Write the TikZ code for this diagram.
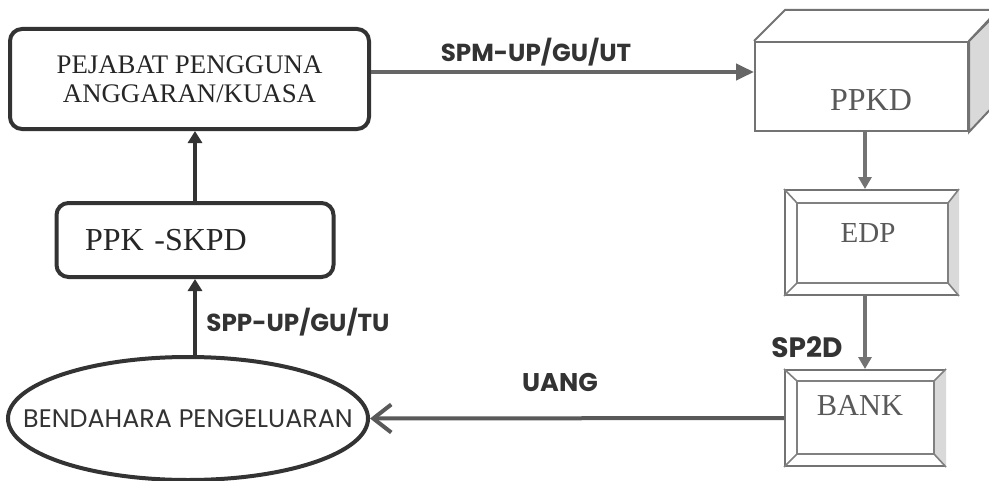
\documentclass[tikz,border=0pt]{standalone}
\usepackage{fontspec}
\setmainfont{Liberation Serif}
\newfontfamily\gothic{Poppins}
\usetikzlibrary{arrows.meta,calc,shapes.geometric}
\begin{document}
\begin{tikzpicture}[x=0.5pt,y=-0.5pt,
  darkbox/.style={draw=black!80, line width=2pt, rounded corners=6pt, inner sep=0pt, text=black!85},
  litebox/.style={draw=black!55, line width=1pt, inner sep=0pt},
  bevline/.style={draw=black!50, line width=0.8pt},
  bevfill/.style={fill=black!15},
  rtext/.style={text=black!65, inner sep=0pt},
  lab/.style={font=\gothic\bfseries\fontsize{12.3}{14}\selectfont, text=black!80, inner sep=0pt},
  darrow/.style={draw=black!80, line width=2pt, -{Triangle[length=6pt,width=7pt]}},
  spmarrow/.style={draw=black!60, line width=2pt, -{Triangle[length=9pt,width=8pt]}},
  garrow/.style={draw=black!55, line width=1.6pt, -{Triangle[length=6pt,width=6.5pt]}},
  uarrow/.style={draw=black!65, line width=2pt, -{Straight Barb[length=9pt,width=14pt,line width=2pt]}}]
\useasboundingbox (0,0) rectangle (989,481);
\clip (0,0) rectangle (989,481);
\fill[white] (0,0) rectangle (989,481);

% left column
\node[darkbox, minimum width=179.5pt, minimum height=50pt, align=center,
  font=\fontsize{13.4}{14.5}\selectfont] (peja) at (189.5,79)
  {PEJABAT PENGGUNA\\ANGGARAN/KUASA};
\node[darkbox, minimum width=138.5pt, minimum height=37pt, text width=110pt,
  align=left, font=\fontsize{16}{18}\selectfont] (ppk) at (195,240) {PPK -SKPD};
\node[draw=black!80, line width=2pt, ellipse, minimum width=180pt, minimum height=61.5pt,
  inner sep=0pt] (bend) at (188,418.5) {};
\node[inner sep=0pt, text=black!80, font=\gothic\fontsize{12.7}{14}\selectfont] (bendtxt)
  at (188,418.5) {BENDAHARA PENGELUARAN};

% PPKD cube
\node[litebox, minimum width=106.5pt, minimum height=44.5pt, anchor=north west] (ppkd) at (754,41) {};
\filldraw[bevfill, draw=black!55, line width=1pt] (ppkd.north east) -- ++(31,-31) -- ++(0,89) -- (ppkd.south east) -- cycle;
\draw[draw=black!55, line width=1pt] (ppkd.north west) -- ++(31,-31) -- ++(213,0) -- (ppkd.north east);
\node[rtext, font=\fontsize{16}{18}\selectfont] (ppkdtxt) at (871,100) {PPKD};

% EDP bevel box
\node[litebox, minimum width=86.5pt, minimum height=52.5pt] (edp) at (871.5,242.5) {};
\fill[bevfill] (edp.north east) -- +(-11,14) -- ($(edp.south east)+(-11,-13)$) -- (edp.south east) -- cycle;
\draw[bevline] ($(edp.north west)+(13,14)$) rectangle ($(edp.south east)+(-11,-13)$);
\draw[bevline] (edp.north west) -- +(13,14) (edp.north east) -- +(-11,14)
  (edp.south west) -- +(13,-13) (edp.south east) -- +(-11,-13);
\node[rtext, font=\fontsize{14.5}{16}\selectfont] (edptxt) at (868,233) {EDP};

% BANK bevel box
\node[litebox, minimum width=80pt, minimum height=48pt] (bank) at (865,418) {};
\fill[bevfill] (bank.north east) -- +(-12,12) -- ($(bank.south east)+(-12,-13)$) -- (bank.south east) -- cycle;
\draw[bevline] ($(bank.north west)+(13,12)$) rectangle ($(bank.south east)+(-12,-13)$);
\draw[bevline] (bank.north west) -- +(13,12) (bank.north east) -- +(-12,12)
  (bank.south west) -- +(13,-13) (bank.south east) -- +(-12,-13);
\node[rtext, font=\fontsize{15.2}{17}\selectfont] (banktxt) at (860,406) {BANK};

% connectors
\draw[darrow] (ppk.north) -- (ppk.north |- peja.south);
\draw[darrow] (bend.north -| ppk.south) -- (ppk.south);
\draw[spmarrow] ([yshift=3.5pt]peja.east) coordinate (s1) -- (s1 -| ppkd.west);
\draw[garrow] (ppkd.south -| bank.north) -- (edp.north -| bank.north);
\draw[garrow] (edp.south -| bank.north) -- (bank.north);
\draw[uarrow] (bank.west) -- (bend.east);

% labels
\node[lab] (spm) at (536,52) {SPM-UP/GU/UT};
\node[lab] (spp) at (298,322) {SPP-UP/GU/TU};
\node[lab, font=\gothic\bfseries\fontsize{14}{16}\selectfont] (sp2d) at (807,347) {SP2D};
\node[lab, font=\gothic\bfseries\fontsize{12.8}{15}\selectfont] (uang) at (560,382) {UANG};
\end{tikzpicture}
\end{document}
